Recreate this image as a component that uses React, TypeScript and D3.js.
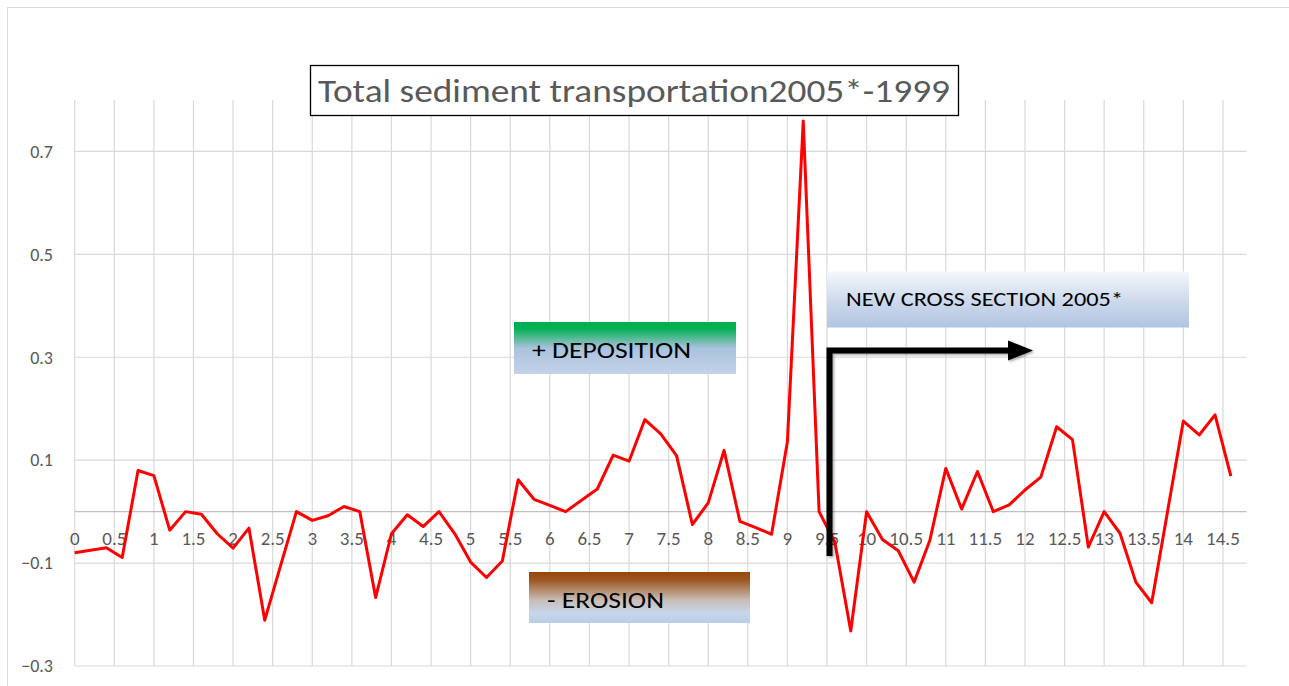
import React from 'react';
import * as d3 from 'd3';

// distance along the reach and sediment change (2005* - 1999)
const distance = [
  0, 0.2, 0.4, 0.6, 0.8, 1.0, 1.2, 1.4, 1.6, 1.8, 2.0, 2.2, 2.4, 2.6, 2.8,
  3.0, 3.2, 3.4, 3.6, 3.8, 4.0, 4.2, 4.4, 4.6, 4.8, 5.0, 5.2, 5.4, 5.6, 5.8,
  6.0, 6.2, 6.4, 6.6, 6.8, 7.0, 7.2, 7.4, 7.6, 7.8, 8.0, 8.2, 8.4, 8.6, 8.8,
  9.0, 9.2, 9.4, 9.6, 9.8, 10.0, 10.2, 10.4, 10.6, 10.8, 11.0, 11.2, 11.4, 11.6, 11.8,
  12.0, 12.2, 12.4, 12.6, 12.8, 13.0, 13.2, 13.4, 13.6, 13.8, 14.0, 14.2, 14.4, 14.6,
];
const sediment = [
  -0.08, -0.075, -0.07, -0.089, 0.08, 0.07, -0.036, 0.0, -0.005, -0.043, -0.071, -0.032, -0.211, -0.105, 0.0,
  -0.017, -0.008, 0.01, 0.0, -0.167, -0.043, -0.006, -0.029, 0.0, -0.043, -0.098, -0.128, -0.096, 0.062, 0.024,
  0.012, 0.0, 0.022, 0.044, 0.11, 0.098, 0.179, 0.151, 0.109, -0.025, 0.017, 0.119, -0.019, -0.031, -0.044,
  0.136, 0.759, 0.0, -0.06, -0.232, 0.0, -0.054, -0.076, -0.137, -0.055, 0.084, 0.005, 0.078, 0.0, 0.013,
  0.042, 0.067, 0.165, 0.14, -0.069, 0.0, -0.042, -0.137, -0.177, 0.0, 0.176, 0.149, 0.188, 0.069,
];
const xTicks = [
  0, 0.5, 1, 1.5, 2, 2.5, 3, 3.5, 4, 4.5, 5, 5.5, 6, 6.5, 7, 7.5,
  8, 8.5, 9, 9.5, 10, 10.5, 11, 11.5, 12, 12.5, 13, 13.5, 14, 14.5,
];
const yTicks = [-0.3, -0.1, 0.1, 0.3, 0.5, 0.7];

const title = 'Total sediment transportation2005*-1999';
const font = 'Carlito, Calibri, Lato, sans-serif';

const W = 1289;
const H = 686;

export default function App() {
  const x = d3.scaleLinear().domain([0, 14.8]).range([74.7, 1246.7]);
  const y = d3.scaleLinear().domain([-0.3, 0.8]).range([666, 100]);

  const line = d3
    .line<number>()
    .x((_, i) => x(distance[i]))
    .y(d => y(d));

  const [x0, x1] = x.range();
  const [yBottom, yTop] = y.range();

  return (
    <svg width={W} height={H} style={{ position: 'fixed', left: 0, top: 0, background: '#fff' }}>
      <defs>
        <linearGradient id="dep" x1="0" y1="0" x2="0" y2="1">
          <stop offset="0" stopColor="#00b050" />
          <stop offset="0.12" stopColor="#00b050" />
          <stop offset="0.5" stopColor="#a9c2dd" />
          <stop offset="1" stopColor="#c3d3e9" />
        </linearGradient>
        <linearGradient id="ero" x1="0" y1="0" x2="0" y2="1">
          <stop offset="0" stopColor="#97470a" />
          <stop offset="0.15" stopColor="#9c5520" />
          <stop offset="0.55" stopColor="#c9bdb6" />
          <stop offset="0.8" stopColor="#c7d6ea" />
          <stop offset="1" stopColor="#b9cde6" />
        </linearGradient>
        <linearGradient id="ncs" x1="0" y1="0" x2="0" y2="1">
          <stop offset="0" stopColor="#f4f7fc" />
          <stop offset="0.5" stopColor="#cfdbed" />
          <stop offset="1" stopColor="#b0c4e1" />
        </linearGradient>
        <filter id="shadow" x="-10%" y="-10%" width="130%" height="130%">
          <feDropShadow dx="1.5" dy="1.5" stdDeviation="1" floodColor="#000" floodOpacity="0.35" />
        </filter>
      </defs>

      {/* chart area border */}
      <rect x={7.5} y={7.5} width={W + 20} height={H + 20} fill="#fff" stroke="#d9d9d9" />

      {/* vertical gridlines */}
      {xTicks.map(t => (
        <line key={'vx' + t} x1={x(t)} x2={x(t)} y1={yTop} y2={yBottom} stroke="#d9d9d9" strokeWidth={1.2} />
      ))}
      {/* horizontal gridlines */}
      {yTicks.map(t => (
        <line key={'hy' + t} x1={x0} x2={x1} y1={y(t)} y2={y(t)} stroke="#d9d9d9" strokeWidth={1.2} />
      ))}
      <line x1={x0} x2={x1} y1={y(0)} y2={y(0)} stroke="#bfbfbf" strokeWidth={1.3} />

      {/* y tick labels */}
      {yTicks.map(t => (
        <text key={'ly' + t} x={53} y={y(t)} dy="0.35em" textAnchor="end" fontFamily={font} fontSize={18} fill="#595959">
          {d3.format('.1f')(t)}
        </text>
      ))}
      {/* x tick labels */}
      {xTicks.map(t => (
        <text key={'lx' + t} x={x(t)} y={545} textAnchor="middle" fontFamily={font} fontSize={19} fill="#595959">
          {String(t)}
        </text>
      ))}

      {/* annotations */}
      <rect x={514} y={322} width={222} height={52} fill="url(#dep)" />
      <text x={532} y={357.5} fontFamily={font} fontSize={22.5} fill="#000" textLength={159} lengthAdjust="spacingAndGlyphs">
        + DEPOSITION
      </text>

      <rect x={529} y={572} width={221} height={51} fill="url(#ero)" />
      <text x={547} y={607.5} fontFamily={font} fontSize={22.5} fill="#000" textLength={117} lengthAdjust="spacingAndGlyphs">
        - EROSION
      </text>

      <rect x={827} y={271.5} width={362} height={56} fill="url(#ncs)" />
      <text x={846} y={305.5} fontFamily={font} fontSize={21} fill="#000" textLength={277} lengthAdjust="spacingAndGlyphs">
        NEW CROSS SECTION 2005*
      </text>

      {/* data line */}
      <path d={line(sediment) || ''} fill="none" stroke="#ff0000" strokeWidth={3} strokeLinejoin="round" />

      {/* arrow */}
      <g filter="url(#shadow)">
        <path d="M829.5,556 L829.5,350.5 L1012,350.5" fill="none" stroke="#000" strokeWidth={6} strokeLinejoin="miter" />
        <polygon points="1008,340.5 1033,350.5 1008,360.5" fill="#000" />
      </g>

      {/* title */}
      <rect x={310.5} y={65.5} width={648} height={50} fill="#fff" stroke="#000" strokeWidth={1.3} />
      <text x={318} y={102} fontFamily={font} fontSize={32} fill="#595959" textLength={632} lengthAdjust="spacingAndGlyphs">
        {title}
      </text>
    </svg>
  );
}
